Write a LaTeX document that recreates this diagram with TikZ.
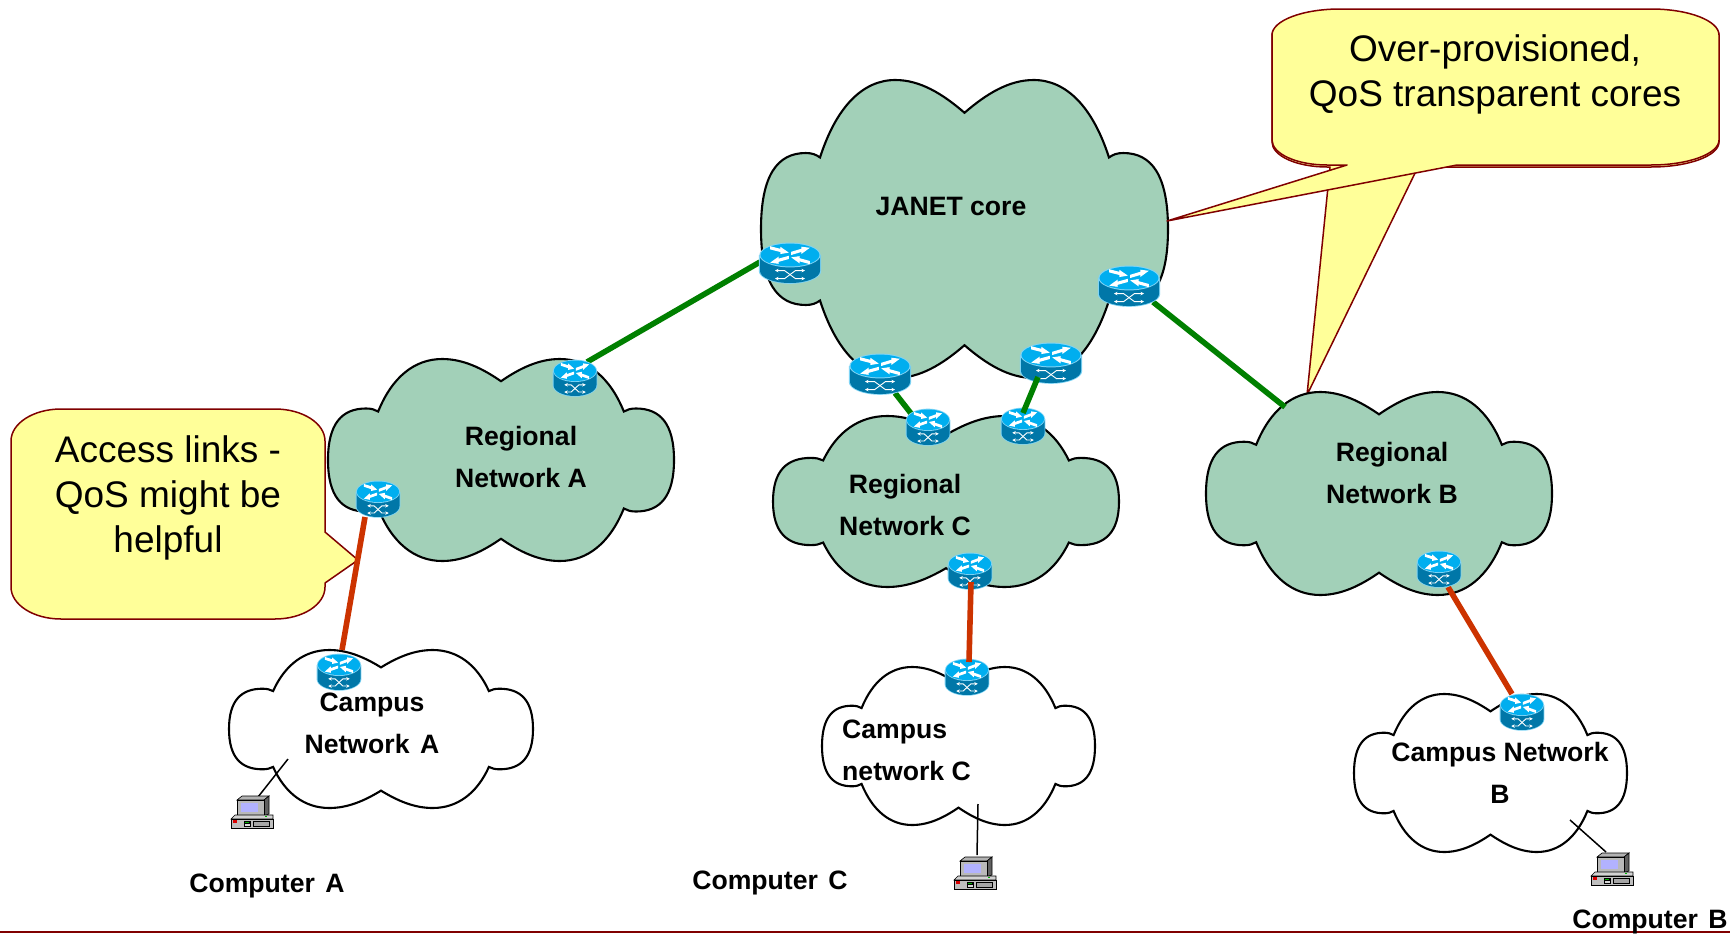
\documentclass[tikz,border=0pt]{standalone}
\usepackage{fontspec}
\setmainfont{Liberation Sans}
\usetikzlibrary{arrows.meta}
\definecolor{cloudgreen}{HTML}{A2D0B8}
\definecolor{calloutfill}{HTML}{FFFF99}
\definecolor{calloutline}{HTML}{800000}
\definecolor{linkgreen}{HTML}{008000}
\definecolor{linkorange}{HTML}{CC3300}
\definecolor{routertop}{HTML}{00AEEF}
\definecolor{routerbody}{HTML}{0077A8}
\definecolor{routerrim}{HTML}{7FD4F5}
\newcommand{\cloudat}[5]{%
  \begin{scope}[shift={(#1,#2)},xscale=#3,yscale=#4]
    \draw[cloudedge,fill=#5] (.5,.11)
      .. controls (.445,.045) and (.39,0) .. (.33,0)
      .. controls (.25,0) and (.185,.09) .. (.145,.26)
      .. controls (.135,.25) and (.125,.245) .. (.11,.245)
      .. controls (.04,.245) and (0,.32) .. (0,.5)
      .. controls (0,.68) and (.04,.755) .. (.11,.755)
      .. controls (.125,.755) and (.135,.75) .. (.145,.74)
      .. controls (.185,.91) and (.25,1) .. (.33,1)
      .. controls (.39,1) and (.445,.955) .. (.5,.89)
      .. controls (.555,.955) and (.61,1) .. (.67,1)
      .. controls (.75,1) and (.815,.91) .. (.855,.74)
      .. controls (.865,.75) and (.875,.755) .. (.89,.755)
      .. controls (.96,.755) and (1,.68) .. (1,.5)
      .. controls (1,.32) and (.96,.245) .. (.89,.245)
      .. controls (.875,.245) and (.865,.25) .. (.855,.26)
      .. controls (.815,.09) and (.75,0) .. (.67,0)
      .. controls (.61,0) and (.555,.045) .. (.5,.11) -- cycle;
  \end{scope}}
\tikzset{
  cloudedge/.style={draw=black,line width=2.1pt},
  callout/.style={draw=calloutline,fill=calloutfill,line width=1.5pt,line join=round},
  corelink/.style={draw=linkgreen,line width=5.6pt},
  accesslink/.style={draw=linkorange,line width=5.6pt},
  hostwire/.style={draw=black,line width=1.5pt},
  boldlabel/.style={inner sep=0pt,align=center,font=\fontsize{26.6}{42}\selectfont\bfseries},
  bigtext/.style={inner sep=0pt,align=center,font=\fontsize{37}{45}\selectfont},
  bigrouter/.style={xscale=60,yscale=-40},
  smallrouter/.style={xscale=43,yscale=-36},
  router/.pic={
    \fill[routerrim] (-.52,-.2) -- (-.52,.2) arc[start angle=180,end angle=0,x radius=.52,y radius=.32] -- (.52,-.2) -- cycle;
    \fill[routerbody] (-.5,-.2) -- (-.5,.2) arc[start angle=180,end angle=0,x radius=.5,y radius=.3] -- (.5,-.2) -- cycle;
    \fill[routerrim] (0,-.2) ellipse[x radius=.51,y radius=.31];
    \fill[routertop] (0,-.2) ellipse[x radius=.49,y radius=.285];
    \foreach \tx/\ty/\dx/\dy in {-.33/-.38/.31/.12, .02/-.24/.31/-.14, -.02/-.14/-.31/.13, .33/-.01/-.31/-.13}{
      \fill[white,cm={\dx,\dy,0,1,(\tx,\ty)}] (0,-.04) -- (.55,-.04) -- (.55,-.09) -- (1,0) -- (.55,.09) -- (.55,.04) -- (0,.04) -- cycle;
    }
    \draw[white,line width=.9pt,{Stealth[length=3.5pt,width=3.5pt]}-{Stealth[length=3.5pt,width=3.5pt]}] (-.25,.19) -- (-.09,.19) -- (.09,.39) -- (.25,.39);
    \draw[white,line width=.9pt,{Stealth[length=3.5pt,width=3.5pt]}-{Stealth[length=3.5pt,width=3.5pt]}] (-.25,.39) -- (-.09,.39) -- (.09,.19) -- (.25,.19);
  },
  pcbox/.style={yscale=-1},
  computer/.pic={
    \filldraw[fill=gray!60,draw=black,line width=.6pt] (-15,-13) -- (-10,-17) -- (17,-17) -- (12,-13) -- cycle;
    \filldraw[fill=gray!75!black,draw=black,line width=.6pt] (12,-13) -- (17,-17) -- (17,1) -- (12,3) -- cycle;
    \filldraw[fill=gray!55,draw=black,line width=.6pt] (-15,-13) rectangle (12,3);
    \fill[blue!30!white] (-11,-10) rectangle (6,-1);
    \filldraw[fill=gray!35,draw=black,line width=.6pt] (-21,6) -- (-17,2) -- (21,2) -- (21,6) -- cycle;
    \filldraw[fill=gray!50,draw=black,line width=.8pt] (-21,6) rectangle (21,15);
    \fill[red!85!black] (-19,7) rectangle (-15,10);
    \fill[black] (-8,8) rectangle (-1,14);
    \fill[green!70!black] (-7,9) rectangle (-3,10);
    \fill[gray!30] (-7,11) rectangle (-2,13);
    \filldraw[fill=gray!70,draw=black,line width=.5pt] (1,8) rectangle (17,13);
    \fill[green!70!black] (13,3) rectangle (15,4);
  }
}
\begin{document}
\begin{tikzpicture}[x=1pt,y=1pt,yscale=-1]
\useasboundingbox (0,0) rectangle (1730,937);
\fill[white] (0,0) rectangle (1730,937);

% rule at the foot
\coordinate (ruleL) at (0,932);
\coordinate (ruleR) at (1730,932);
\draw[draw=calloutline,line width=2pt] (ruleL) -- (ruleR);

% over-provisioned callout, back layer with tail to Regional B
\draw[callout] (1340,10) -- (1651,10) arc[start angle=270,end angle=360,x radius=68,y radius=26]
  -- (1719,142) arc[start angle=0,end angle=90,x radius=68,y radius=25]
  -- (1418,167) -- (1307,395) -- (1330,167)
  -- (1327,167) arc[start angle=90,end angle=180,x radius=55,y radius=25]
  -- (1272,36) arc[start angle=180,end angle=270,x radius=68,y radius=26] -- cycle;

% clouds
\cloudat{761}{80}{407}{298}{cloudgreen}
\cloudat{328}{359}{346}{202}{cloudgreen}
\cloudat{773}{416}{346}{171}{cloudgreen}
\cloudat{1206}{392}{346}{203}{cloudgreen}
\cloudat{229}{650}{304}{158}{white}
\cloudat{822}{667}{273}{158}{white}
\cloudat{1354}{694}{273}{158}{white}

% front callout with tail to JANET core
\draw[callout] (1340,9) -- (1651,9) arc[start angle=270,end angle=360,x radius=68,y radius=26]
  -- (1719,140) arc[start angle=0,end angle=90,x radius=68,y radius=25]
  -- (1457,165) -- (1167,221) -- (1347,165)
  -- (1327,165) arc[start angle=90,end angle=180,x radius=55,y radius=25]
  -- (1272,35) arc[start angle=180,end angle=270,x radius=68,y radius=26] -- cycle;

% access callout
\draw[callout] (61,409) -- (275,409) arc[start angle=270,end angle=360,x radius=50,y radius=32]
  -- (325,532) -- (358,560) -- (325,583)
  -- (325,587) arc[start angle=0,end angle=90,x radius=50,y radius=32]
  -- (61,619) arc[start angle=90,end angle=180,x radius=50,y radius=32]
  -- (11,441) arc[start angle=180,end angle=270,x radius=50,y radius=32] -- cycle;

% host wires
\coordinate (wireAin) at (288,759);
\coordinate (wireAout) at (258,797);
\coordinate (wireCin) at (978,804);
\coordinate (wireCout) at (977,855);
\coordinate (wireBin) at (1570,820);
\coordinate (wireBout) at (1606,852);
\draw[hostwire] (wireAin) -- (wireAout);
\draw[hostwire] (wireCin) -- (wireCout);
\draw[hostwire] (wireBin) -- (wireBout);

% connector ends
\coordinate (coreW) at (760,262);
\coordinate (regAN) at (587,362);
\coordinate (coreE) at (1153,302);
\coordinate (regBN) at (1285,407);
\coordinate (coreS1) at (895,393);
\coordinate (regCN1) at (913,416);
\coordinate (coreS2) at (1038,377);
\coordinate (regCN2) at (1023,413);
\coordinate (regAS) at (365,517);
\coordinate (campAN) at (342,650);
\coordinate (regCS) at (971,582);
\coordinate (campCN) at (969,662);
\coordinate (regBS) at (1448,587);
\coordinate (campBN) at (1512,694);

\draw[corelink] (coreW) -- (regAN);
\draw[corelink] (coreE) -- (regBN);
\draw[corelink] (coreS1) -- (regCN1);
\draw[accesslink] (campAN) -- (regAS);
\draw[accesslink] (regBS) -- (campBN);

% routers
\coordinate (rJ1) at (790,263);
\coordinate (rJ2) at (1129,286);
\coordinate (rJ3) at (880,374);
\coordinate (rJ4) at (1051,363);
\coordinate (rC1) at (928,427);
\coordinate (rC2) at (1023,426);
\coordinate (rA1) at (575,378);
\coordinate (rA2) at (378,499);
\coordinate (rCa) at (339,672);
\coordinate (rC3) at (970,571);
\coordinate (rCc) at (967,677);
\coordinate (rB1) at (1439,569);
\coordinate (rCb) at (1522,712);
\pic[bigrouter] at (rJ1) {router};
\pic[bigrouter] at (rJ2) {router};
\pic[bigrouter] at (rJ3) {router};
\pic[bigrouter] at (rJ4) {router};
\pic[smallrouter] at (rC1) {router};
\pic[smallrouter] at (rC2) {router};
\pic[smallrouter] at (rA1) {router};
\pic[smallrouter] at (rA2) {router};
\pic[smallrouter] at (rCa) {router};
\pic[smallrouter] at (rC3) {router};
\pic[smallrouter] at (rCc) {router};
\pic[smallrouter] at (rB1) {router};
\pic[smallrouter] at (rCb) {router};

% links drawn over the routers
\draw[corelink] (coreS2) -- (regCN2);
\draw[accesslink] (regCS) -- (campCN);

% computers
\coordinate (pcA) at (252,813);
\coordinate (pcC) at (975,874);
\coordinate (pcB) at (1612,870);
\pic[pcbox] at (pcA) {computer};
\pic[pcbox] at (pcC) {computer};
\pic[pcbox] at (pcB) {computer};

% labels
\node[boldlabel] (lJanet) at (951,206) {JANET core};
\node[boldlabel] (lRegA) at (521,457) {Regional\\Network A};
\node[boldlabel] (lRegC) at (905,505) {Regional\\Network C};
\node[boldlabel] (lRegB) at (1392,473) {Regional\\Network B};
\node[boldlabel] (lCampA) at (372,723) {Campus\\Network\hspace{.12em} A};
\node[boldlabel,align=left,anchor=west] (lCampC) at (842,750) {Campus\\network C};
\node[boldlabel] (lCampB) at (1500,773) {Campus Network\\B};
\node[boldlabel] (lCompA) at (267,886) {Computer\hspace{.12em} A};
\node[boldlabel] (lCompC) at (770,883) {Computer\hspace{.12em} C};
\node[boldlabel] (lCompB) at (1650,922) {Computer\hspace{.12em} B};
\node[bigtext] (lOver) at (1495,74) {Over-provisioned,\\QoS transparent cores};
\node[bigtext] (lAccess) at (168,498) {Access links -\\QoS might be\\helpful};
\end{tikzpicture}
\end{document}
